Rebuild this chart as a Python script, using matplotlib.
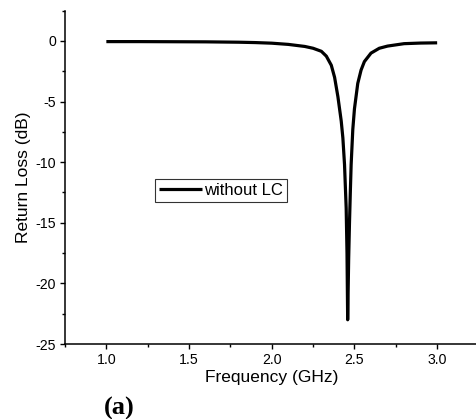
import matplotlib
matplotlib.use("Agg")
import matplotlib.pyplot as plt
from matplotlib.ticker import MultipleLocator

freq_ghz = [1.0, 1.2, 1.4, 1.6, 1.8, 1.9, 2.0, 2.1, 2.2, 2.25, 2.3, 2.33, 2.36,
            2.38, 2.40, 2.42, 2.43, 2.44, 2.45, 2.455, 2.459, 2.465, 2.47, 2.475,
            2.48, 2.49, 2.50, 2.52, 2.54, 2.56, 2.60, 2.65, 2.70, 2.8, 2.9, 3.0]
return_loss_db = [-0.05, -0.05, -0.06, -0.07, -0.10, -0.13, -0.18, -0.28, -0.45,
                  -0.60, -0.85, -1.25, -2.0, -3.0, -4.6, -6.6, -8.0, -10.2, -13.8,
                  -17.5, -23.0, -18.0, -15.0, -12.5, -10.2, -7.3, -5.6, -3.5, -2.4,
                  -1.7, -1.0, -0.6, -0.42, -0.22, -0.17, -0.15]
series_label = "without LC"
x_label = "Frequency (GHz)"
y_label = "Return Loss (dB)"
panel_label = "(a)"

plt.rcParams['font.family'] = ['Liberation Sans', 'DejaVu Sans']

fig = plt.figure(figsize=(4.77, 4.19), dpi=100)
ax = fig.add_axes([65/477, 1-344/419, (478.5-65)/477, (344-10.7)/419])

ax.plot(freq_ghz, return_loss_db, color='black', lw=2.3, label=series_label,
        solid_capstyle='butt')

ax.set_xlim(0.75, 3.25)
ax.set_ylim(-25, 2.5)
ax.xaxis.set_major_locator(MultipleLocator(0.5))
ax.xaxis.set_minor_locator(MultipleLocator(0.25))
ax.yaxis.set_major_locator(MultipleLocator(5))
ax.yaxis.set_minor_locator(MultipleLocator(2.5))
ax.xaxis.set_major_formatter(matplotlib.ticker.FormatStrFormatter('%.1f'))
ax.set_xticks([1.0, 1.5, 2.0, 2.5, 3.0])
ax.yaxis.set_major_formatter(matplotlib.ticker.FuncFormatter(lambda v, p: f"{int(round(v))}"))

for s in ['top', 'right']:
    ax.spines[s].set_visible(False)
for s in ['left', 'bottom']:
    ax.spines[s].set_linewidth(1.1)

ax.tick_params(which='major', direction='out', length=3.6, width=1.0,
               labelsize=10.2, pad=3)
ax.tick_params(which='minor', direction='out', length=2.2, width=1.0)

ax.set_xlabel(x_label, fontsize=12.5, labelpad=2)
ax.set_ylabel(y_label, fontsize=12.5, labelpad=3)

leg = ax.legend(loc='upper left', bbox_to_anchor=((155-65)/413.5, (344-179)/333.3),
                borderaxespad=0, fontsize=12, frameon=True, fancybox=False,
                handlelength=2.6, handletextpad=0.1, borderpad=0.25)
leg.get_frame().set_edgecolor('black')
leg.get_frame().set_linewidth(0.8)

fig.text(119/477, 1-408/419, panel_label, fontsize=19, fontweight='bold',
         family='Liberation Serif', ha='center', va='center')

fig.savefig("out.png", dpi=100)
